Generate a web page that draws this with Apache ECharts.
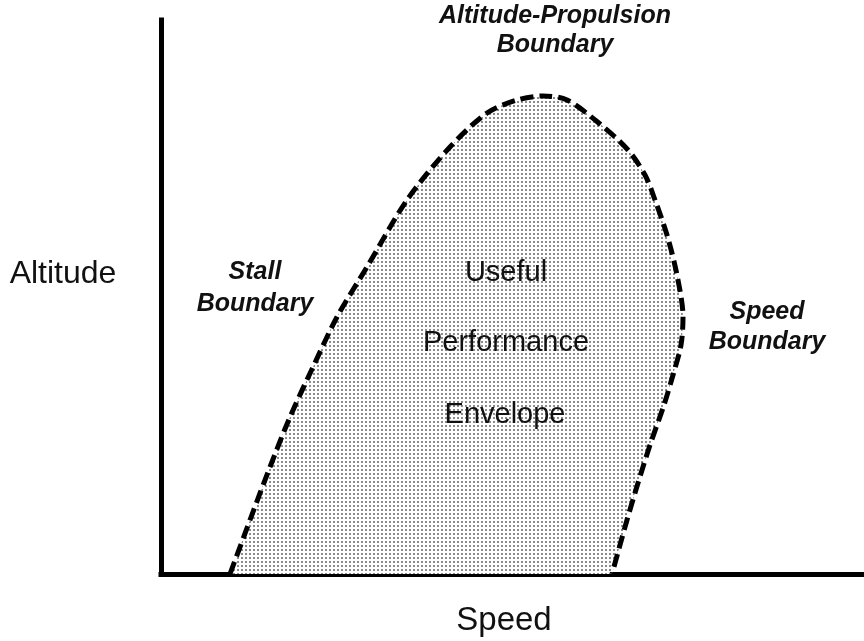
<!DOCTYPE html>
<html>
<head>
<meta charset="utf-8">
<script src="https://cdn.jsdelivr.net/npm/echarts@6/dist/echarts.min.js"></script>
<style>
html,body{margin:0;padding:0;background:#fff;}
#chart{width:864px;height:641px;}
</style>
</head>
<body>
<div id="chart"></div>
<script>
// Envelope boundary (speed, altitude) in arbitrary chart units
var speedValues = [69, 89, 109, 129, 152, 176, 206, 246, 289, 326, 356, 382, 406, 439, 467, 484, 494, 506, 516, 522, 520, 512, 503, 489, 477, 466, 451];
var altitudeValues = [0, 54, 107, 157, 207, 257, 307, 374, 427, 461, 474, 478, 474, 450, 424, 399, 374, 339, 299, 257, 229, 199, 169, 129, 91, 54, 0];
var axisTitles = { x: 'Speed', y: 'Altitude' };
var annotationTexts = {
  stall: 'Stall\nBoundary',
  top: 'Altitude-Propulsion\nBoundary',
  speed: 'Speed\nBoundary',
  inner: ['Useful', 'Performance', 'Envelope']
};

var boundaryData = speedValues.map(function (s, i) { return [s, altitudeValues[i]]; });

// dotted fill pattern
var tile = document.createElement('canvas');
tile.width = 4; tile.height = 4;
var tctx = tile.getContext('2d');
tctx.fillStyle = '#ffffff';
tctx.fillRect(0, 0, 4, 4);
tctx.fillStyle = '#8c8c8c';
tctx.fillRect(1, 1, 2, 2);

var chart = echarts.init(document.getElementById('chart'), null, { renderer: 'canvas' });
var innerFont = { fontFamily: 'Liberation Sans, Arial, sans-serif', fontSize: 29, fill: '#111' };
var boldItalic = { fontFamily: 'Liberation Sans, Arial, sans-serif', fontSize: 25, fontWeight: 'bold', fontStyle: 'italic', fill: '#111' };

function txt(x, y, text, base, extra) {
  return { type: 'text', x: x, y: y, z: 10,
    style: Object.assign({ text: text, textAlign: 'center', textVerticalAlign: 'middle' }, base, extra || {}) };
}

chart.setOption({
  backgroundColor: '#ffffff',
  animation: false,
  grid: { left: 161, right: 0, top: 20, bottom: 67 },
  xAxis: {
    type: 'value', min: 0, max: 703,
    axisLine: { show: true, onZero: false, lineStyle: { color: '#000', width: 5, cap: 'square' } },
    axisTick: { show: false }, axisLabel: { show: false }, splitLine: { show: false }
  },
  yAxis: {
    type: 'value', min: 0, max: 554,
    axisLine: { show: true, onZero: false, lineStyle: { color: '#000', width: 5, cap: 'square' } },
    axisTick: { show: false }, axisLabel: { show: false }, splitLine: { show: false }
  },
  series: [{
    type: 'line',
    data: boundaryData,
    smooth: 0.3,
    symbol: 'none',
    clip: false,
    lineStyle: { color: '#000', width: 5, type: [13, 6], cap: 'butt' },
    areaStyle: { color: { image: tile, repeat: 'repeat' }, opacity: 1 },
    z: 3
  }],
  graphic: [
    txt(63, 274, axisTitles.y, innerFont, { fontSize: 32 }),
    txt(504, 621, axisTitles.x, innerFont, { fontSize: 33 }),
    txt(255, 288, annotationTexts.stall, boldItalic, { lineHeight: 32 }),
    txt(555, 31, annotationTexts.top, boldItalic, { lineHeight: 29 }),
    txt(767, 327, annotationTexts.speed, boldItalic, { lineHeight: 30 }),
    txt(506, 273, annotationTexts.inner[0], innerFont),
    txt(506, 343, annotationTexts.inner[1], innerFont),
    txt(505, 415, annotationTexts.inner[2], innerFont)
  ]
});
</script>
</body>
</html>
